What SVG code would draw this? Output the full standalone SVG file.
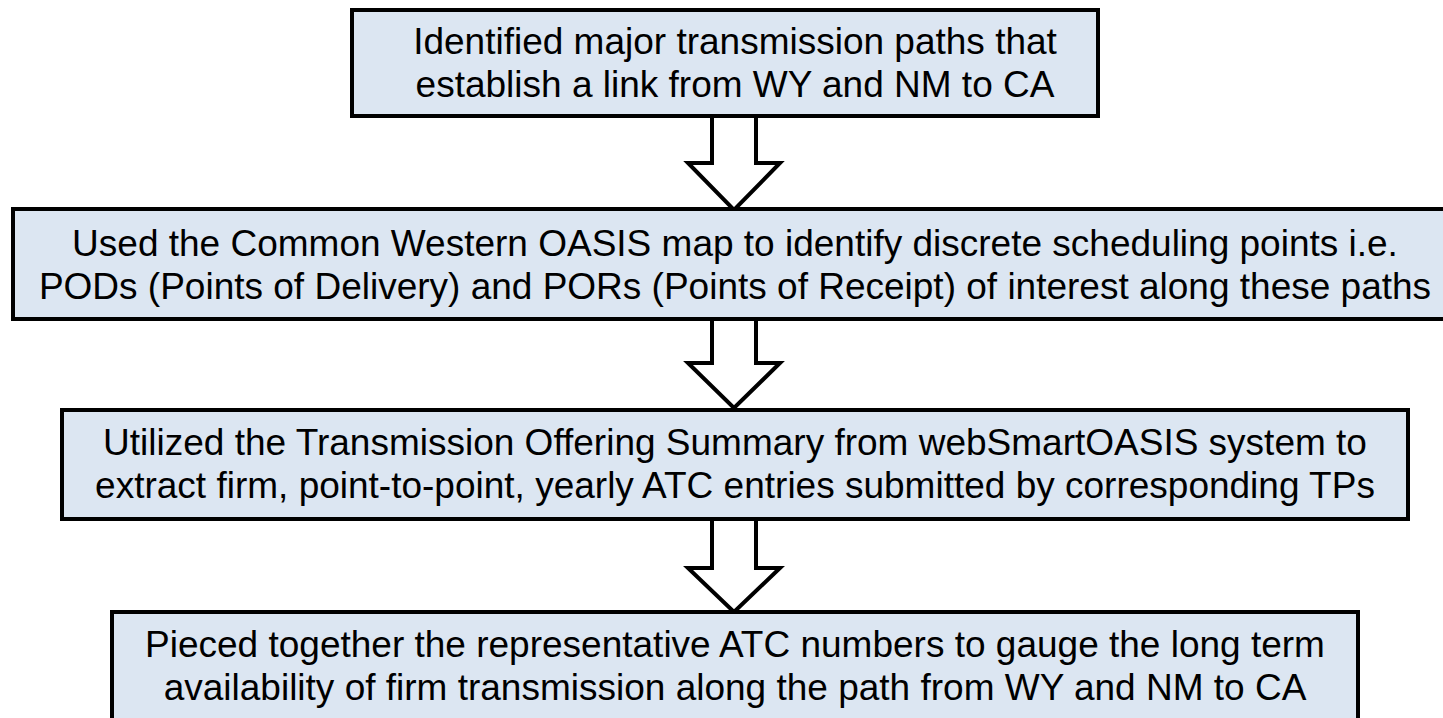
<svg xmlns="http://www.w3.org/2000/svg" width="1443" height="718" viewBox="0 0 1443 718">
<style>
.box{fill:#DCE6F2;stroke:#000;stroke-width:4}
.arr{fill:#fff;stroke:#000;stroke-width:4;stroke-linejoin:miter}
text{font-family:"Liberation Sans",Arial,sans-serif;font-size:37px;fill:#000;text-anchor:middle}
</style>
<rect width="1443" height="718" fill="#fff"/>
<g id="connectors">
<path class="arr" d="M712,116 L712,163 L688,163 L734,210 L780,163 L756,163 L756,116"/>
<path class="arr" d="M712,320 L712,363 L688,363 L734,408 L780,363 L756,363 L756,320"/>
<path class="arr" d="M712,520 L712,568 L688,568 L734,612 L780,568 L756,568 L756,520"/>
</g>
<g id="node1">
<rect class="box" x="352" y="10" width="746" height="106"/>
<text x="735" y="54">Identified major transmission paths that</text>
<text x="735" y="97">establish a link from WY and NM to CA</text>
</g>
<g id="node2">
<rect class="box" x="13" y="209" width="1450" height="110"/>
<text x="735" y="256">Used the Common Western OASIS map to identify discrete scheduling points i.e.</text>
<text x="735" y="299">PODs (Points of Delivery) and PORs (Points of Receipt) of interest along these paths</text>
</g>
<g id="node3">
<rect class="box" x="62" y="410" width="1346" height="109"/>
<text x="735" y="455">Utilized the Transmission Offering Summary from webSmartOASIS system to</text>
<text x="735" y="498">extract firm, point-to-point, yearly ATC entries submitted by corresponding TPs</text>
</g>
<g id="node4">
<rect class="box" x="112" y="612" width="1246" height="120"/>
<text x="735" y="657">Pieced together the representative ATC numbers to gauge the long term</text>
<text x="735" y="700">availability of firm transmission along the path from WY and NM to CA</text>
</g>
</svg>
